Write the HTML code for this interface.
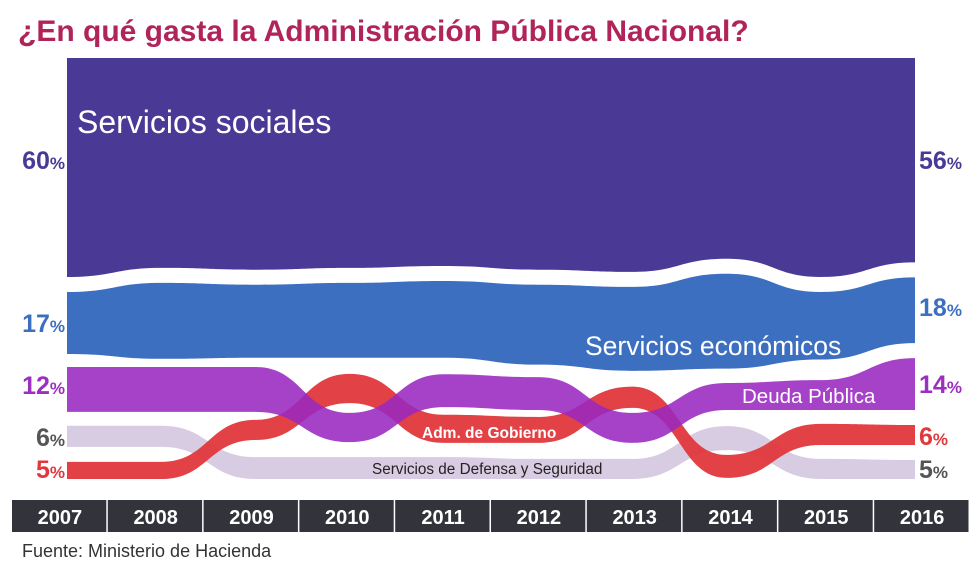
<!DOCTYPE html>
<html><head><meta charset="utf-8"><style>
body{margin:0;background:#fff;width:980px;height:574px;overflow:hidden;font-family:"Liberation Sans",sans-serif}
</style></head><body>
<svg id="chart" width="980" height="574" viewBox="0 0 980 574" xmlns="http://www.w3.org/2000/svg" font-family="Liberation Sans, sans-serif">
<text x="18" y="41" font-size="30" font-weight="bold" fill="#b0245a">¿En qué gasta la Administración Pública Nacional?</text>
<g id="bands"></g>
<g id="labels"></g>
<g id="axis"></g>
<text x="22" y="557" font-size="18" fill="#333">Fuente: Ministerio de Hacienda</text>
</svg>
<script>
const years = ["2007","2008","2009","2010","2011","2012","2013","2014","2015","2016"];
const socialesValues = [60,57.5,58,57.5,57,58,58.6,55,60,56];
const economicosValues = [17,20.8,20,20.5,21,21.9,23,26,18.5,18];
const deudaValues = [12.3,12.3,12.3,8,9,9,8.2,7.4,8.2,14.2];
const deudaBase = [18.4,18.4,18.4,10.1,19.7,18.9,9.9,18.9,18.9,18.9];
const admValues = [4.7,4.7,5.5,8,7.7,7.1,5.8,6.3,5.8,5.5];
const admBase = [0,0,10.7,20.8,9.9,9.9,19.5,0.3,9.3,9.3];
const defensaValues = [5.8,5.8,6,6,6,5.5,5.5,6.6,5.5,5.2];
const defensaBase = [8.8,8.8,0,0,0,0,0,7.9,0,0];
const leftLabels = ["60","17","12","6","5"];
const rightLabels = ["56","18","14","6","5"];

const NS="http://www.w3.org/2000/svg";
const X0=67,X1=915,TOP=58,BASE=479,K=3.65,GAP=15;
const xs=i=>X0+i*(X1-X0)/(years.length-1);
const yBase=u=>BASE-u*K;
function curve(pts,start){
  let d=start?`M${pts[0][0]},${pts[0][1]}`:`L${pts[0][0]},${pts[0][1]}`;
  for(let i=1;i<pts.length;i++){const a=pts[i-1],b=pts[i],m=(b[0]-a[0])/2;
    d+=` C${a[0]+m},${a[1]} ${b[0]-m},${b[1]} ${b[0]},${b[1]}`;}
  return d;
}
function band(tops,bots,color,name,op){
  const t=tops.map((y,i)=>[xs(i),y]);
  const b=bots.map((y,i)=>[xs(i),y]).reverse();
  const p=document.createElementNS(NS,"path");
  p.setAttribute("d",curve(t,true)+" "+curve(b,false)+" Z");
  p.setAttribute("fill",color);
  if(op)p.setAttribute("fill-opacity",op);
  
  
  document.getElementById("bands").appendChild(p);
}
const socBot=socialesValues.map(v=>TOP+v*K);
band(socialesValues.map(()=>TOP),socBot,"#4a3a96","band-servicios-sociales");
const ecoTop=socBot.map(y=>y+GAP);
band(ecoTop,ecoTop.map((y,i)=>y+economicosValues[i]*K),"#3c6fc0","band-servicios-economicos");
band(defensaBase.map((b,i)=>yBase(b+defensaValues[i])),defensaBase.map(yBase),"#d8cce2","band-defensa-seguridad");
band(admBase.map((b,i)=>yBase(b+admValues[i])),admBase.map(yBase),"#e0383c","band-adm-gobierno",0.95);
band(deudaBase.map((b,i)=>yBase(b+deudaValues[i])),deudaBase.map(yBase),"#9a28bf","band-deuda-publica",0.88);

const L=document.getElementById("labels");
function txt(x,y,s,size,fill,name,anchor,weight){
  const t=document.createElementNS(NS,"text");
  t.setAttribute("x",x);t.setAttribute("y",y);t.setAttribute("font-size",size);
  t.setAttribute("fill",fill);t.setAttribute("font-weight",weight||"bold");
  if(anchor)t.setAttribute("text-anchor",anchor);
  t.textContent=s;
  
  
  L.appendChild(t);return t;
}
function pct(x,y,v,fill,name,anchor){
  const t=txt(x,y,v,25,fill,name,anchor);
  const s=document.createElementNS(NS,"tspan");s.setAttribute("font-size","17");s.textContent="%";t.appendChild(s);
}
const colors=["#4a3a96","#3c6fc0","#9c2ec0","#555","#e0383c"];
const lY=[169,332,394,446,478];
leftLabels.forEach((v,i)=>pct(65,lY[i],v,colors[i],"left-value-"+i,"end"));
const rColors=["#4a3a96","#3c6fc0","#9c2ec0","#e0383c","#555"];
const rY=[169,316,393,445,478];
rightLabels.forEach((v,i)=>pct(919,rY[i],v,rColors[i],"right-value-"+i));
txt(77,133,"Servicios sociales",32,"#fff","label-servicios-sociales",null,"normal");
txt(585,355,"Servicios económicos",26.5,"#fff","label-servicios-economicos",null,"normal");
txt(742,403,"Deuda Pública",20.5,"#fff","label-deuda-publica",null,"normal");
txt(422,438,"Adm. de Gobierno",15.5,"#fff","label-adm-gobierno",null,"bold");
txt(372,474,"Servicios de Defensa y Seguridad",15.3,"#222","label-defensa-seguridad",null,"normal");

const A=document.getElementById("axis");
const bx0=12,bx1=970,cw=(bx1-bx0)/years.length;
years.forEach((y,i)=>{
  const r=document.createElementNS(NS,"rect");
  r.setAttribute("x",bx0+i*cw);r.setAttribute("y",500);r.setAttribute("width",cw-1.5);r.setAttribute("height",32);
  r.setAttribute("fill","#33333b");
  
  
  A.appendChild(r);
  const t=document.createElementNS(NS,"text");
  t.setAttribute("x",bx0+i*cw+cw/2);t.setAttribute("y",524);t.setAttribute("text-anchor","middle");
  t.setAttribute("font-size","20");t.setAttribute("font-weight","bold");t.setAttribute("fill","#fff");
  t.textContent=y;
  
  
  A.appendChild(t);
});
</script>
</body></html>
